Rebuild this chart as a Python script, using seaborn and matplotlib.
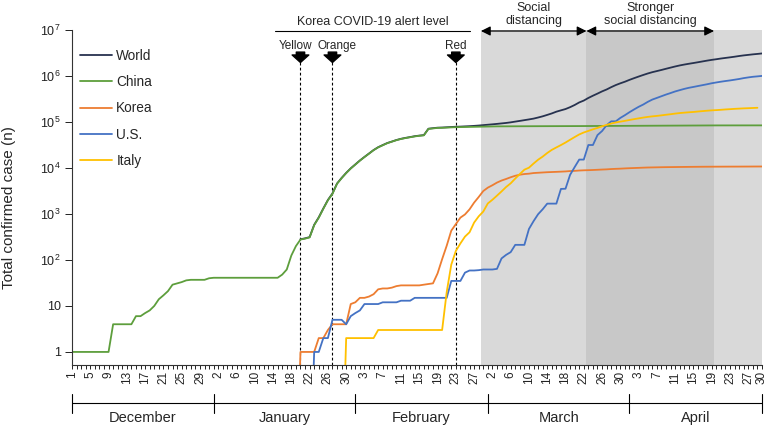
import pandas as pd
import matplotlib
matplotlib.use('Agg')
import matplotlib.pyplot as plt
import matplotlib.dates as mdates
from matplotlib.ticker import NullLocator
import seaborn as sns

# Daily cumulative confirmed cases (WHO situation report numbers)
china_start = '2019-12-01'
china = [1, 1, 1, 1, 1, 1, 1, 1, 1, 4, 4, 4, 4, 4, 6, 6, 7, 8, 10, 14,
         17, 21, 29, 31, 33, 36, 37, 37, 37, 37, 40,
         41, 41, 41, 41, 41, 41, 41, 41, 41, 41, 41, 41, 41, 41, 41, 48, 62, 125, 200,
         278, 291, 309, 571, 830, 1297, 1985, 2741, 4537, 5997, 7736, 9720,
         11821, 14411, 17238, 20471, 24363, 28060, 31211, 34598, 37251, 40235,
         42708, 44730, 46550, 48548, 50054, 51174, 70635, 72528, 74280, 74675,
         75569, 76392, 77042, 77262, 77780, 78191, 78630, 78961, 79394,
         79968, 80174, 80304, 80422, 80565, 80711, 80813, 80859, 80904, 80924,
         80955, 80981, 80991, 81021, 81048, 81077, 81116, 81174, 81300, 81416,
         81498, 81601, 81747, 81846, 81960, 82078, 82230, 82341, 82447, 82545, 82631,
         82724, 82802, 82875, 82930, 83005, 83071, 83157, 83249, 83305, 83369,
         83482, 83597, 83696, 83745, 83797, 83841, 83875, 84149, 84180, 84237,
         84250, 84287, 84302, 84311, 84324, 84338, 84341, 84347, 84367, 84373]

world_start = '2020-01-20'
world = [282, 295, 314, 581, 846, 1320, 2014, 2798, 4593, 6065, 7818, 9826,
         11953, 14557, 17391, 20630, 24554, 28276, 31481, 34886, 37558, 40554,
         43103, 45171, 46997, 49053, 50580, 51857, 71429, 73332, 75204, 75748,
         76769, 77794, 78811, 79331, 80239, 81109, 82294, 83652, 85403,
         87137, 88948, 90870, 93090, 95324, 98192, 101927, 105586, 109577, 113702,
         118319, 125048, 132758, 142539, 153517, 167511, 179111, 191127, 209839, 234073,
         266073, 292142, 332930, 372757, 414179, 462684, 509164, 571678, 634835, 693224, 750890,
         823626, 896450, 972303, 1051635, 1133758, 1210956, 1279722, 1353361, 1436198, 1521252,
         1610909, 1696588, 1773084, 1844863, 1914916, 1991562, 2074529, 2160207, 2241778, 2314621,
         2397216, 2471136, 2544792, 2626321, 2719896, 2804796, 2878196, 2954222, 3018952, 3090445]

korea_start = '2020-01-19'
korea = [0, 1, 1, 1, 1, 2, 2, 3, 4, 4, 4, 4, 11,
         12, 15, 15, 16, 18, 23, 24, 24, 25, 27, 28, 28, 28, 28, 28, 29, 30, 31,
         51, 104, 204, 433, 602, 833, 977, 1261, 1766, 2337, 3150,
         3736, 4212, 4812, 5328, 5766, 6284, 6767, 7134, 7382, 7513, 7755, 7869, 7979,
         8086, 8162, 8236, 8320, 8413, 8565, 8652, 8799, 8897, 8961, 9037, 9137, 9241,
         9332, 9478, 9583, 9661, 9786,
         9887, 9976, 10062, 10156, 10237, 10284, 10331, 10384, 10423, 10450, 10480,
         10512, 10537, 10564, 10591, 10613, 10635, 10653, 10661, 10674, 10683, 10694,
         10702, 10708, 10718, 10728, 10738, 10752, 10761, 10765]

us_start = '2020-01-22'
us = [0, 1, 1, 2, 2, 5, 5, 5, 4, 6,
      7, 8, 11, 11, 11, 11, 12, 12, 12, 12, 13, 13, 13, 15, 15, 15, 15, 15, 15,
      15, 15, 35, 35, 35, 53, 59, 59, 60, 62,
      62, 62, 64, 108, 129, 148, 213, 213, 213, 472, 696, 987, 1264, 1678, 1678,
      1678, 3503, 3536, 7087, 10442, 15219, 15219, 31573, 31573, 51914, 63570,
      85228, 103321, 103321, 122653, 140640,
      163199, 187302, 213600, 239279, 273880, 307318, 333811, 363321, 395030, 425889,
      461437, 492416, 524514, 553822, 578268, 605193, 632781, 661712, 695353, 723605,
      751273, 776907, 800926, 830053, 860772, 899281, 931698, 960651, 981246, 1003974]

italy_start = '2020-01-29'
italy = [0, 2, 2,
         2, 2, 2, 2, 2, 3, 3, 3, 3, 3, 3, 3, 3, 3, 3, 3, 3, 3, 3, 3,
         20, 79, 157, 229, 322, 400, 650, 888, 1128,
         1694, 2036, 2502, 3089, 3858, 4636, 5883, 7375, 9172, 10149, 12462, 15113,
         17660, 21157, 24747, 27980, 31506, 35713, 41035, 47021, 53578, 59138, 63927,
         69176, 74386, 80589, 86498, 92472, 97689, 101739, 105792,
         110574, 115242, 119827, 124632, 128948, 132547, 135586, 139422, 143626, 147577,
         152271, 156363, 159516, 162488, 165155, 168941, 172434, 175925, 178972, 181228,
         183957, 187327, 189973, 192994, 195351, 197675, 199414, 201505, 203591]

series_names = ['World', 'China', 'Korea', 'U.S.', 'Italy']
series_starts = [world_start, china_start, korea_start, us_start, italy_start]
series_values = [world, china, korea, us, italy]
series_colors = ['#27324f', '#5d9e3c', '#ed7d31', '#4472c4', '#ffc000']

month_names = ['December', 'January', 'February', 'March', 'April']
month_edges = ['2019-12-01', '2020-01-01', '2020-02-01', '2020-03-01', '2020-04-01', '2020-04-30']

alert_labels = ['Yellow', 'Orange', 'Red']
alert_dates = ['2020-01-20', '2020-01-27', '2020-02-23']
alert_label_shift = [-1.0, 1.0, 0.0]  # days, keeps Yellow/Orange apart
alert_span = ['2020-01-14 10:00', '2020-02-26 02:00']

period_labels = ['Social\ndistancing', 'Stronger\nsocial distancing']
period_edges = ['2020-02-28 12:00', '2020-03-22 14:00', '2020-04-19 12:00']


def dnum(d):
    return float(mdates.date2num(pd.Timestamp(d)))


frames = []
for name, start, vals in zip(series_names, series_starts, series_values):
    frames.append(pd.DataFrame({'date': pd.date_range(start, periods=len(vals)),
                                'cases': vals, 'country': name}))
df = pd.concat(frames, ignore_index=True)
# zero counts cannot sit on a log axis: push them below the floor so the line drops off
df['plot_cases'] = df['cases'].where(df['cases'] > 0, 1e-3).astype(float)

sns.set_style('ticks')
plt.rcParams['font.family'] = ['Liberation Sans', 'DejaVu Sans']
plt.rcParams['mathtext.fontset'] = 'custom'
plt.rcParams['mathtext.rm'] = 'Liberation Sans'

fig = plt.figure(figsize=(7.7, 4.28), dpi=100)
ax = fig.add_axes([72 / 770, 1 - 365 / 428, 690 / 770, 335 / 428])

first_day = dnum(month_edges[0])
last_day = dnum(month_edges[-1])
p = [dnum(d) for d in period_edges]
ax.axvspan(p[0], p[1], color='#d9d9d9', lw=0, zorder=0)
ax.axvspan(p[1], p[2], color='#c8c8c8', lw=0, zorder=0)
ax.axvspan(p[2], last_day, color='#d9d9d9', lw=0, zorder=0)

sns.lineplot(data=df, x='date', y='plot_cases', hue='country', hue_order=series_names,
             palette=dict(zip(series_names, series_colors)), estimator=None,
             lw=1.3, ax=ax)

ax.set_yscale('log')
ax.set_ylim(0.52, 1e7)
ax.set_xlim(first_day, last_day)
yt = [1, 10, 1e2, 1e3, 1e4, 1e5, 1e6, 1e7]
ax.set_yticks(yt)
ax.set_yticklabels(['1', '10'] + [r'$\mathregular{10^{%d}}$' % k for k in range(2, 8)], fontsize=9)
ax.yaxis.set_minor_locator(NullLocator())

all_days = pd.date_range(month_edges[0], month_edges[-1])
tick_days = list(all_days[::4]) + [all_days[-1]]
ax.set_xticks([dnum(d) for d in tick_days])
ax.set_xticklabels([str(d.day) for d in tick_days], rotation=90, fontsize=8.5)
ax.set_xticks([dnum(d) for d in all_days], minor=True)
ax.tick_params(axis='x', which='both', length=3, width=0.7, pad=1.5, colors='#222222')
ax.tick_params(axis='y', length=5, width=0.7, pad=3, colors='#222222')
ax.set_xlabel('')
ax.set_ylabel('Total confirmed case (n)', fontsize=11)
ax.yaxis.set_label_coords(-0.081, 0.469)
sns.despine(ax=ax)
for s in ['left', 'bottom']:
    ax.spines[s].set_color('#333333')
    ax.spines[s].set_linewidth(0.8)

trans = ax.get_xaxis_transform()

# month bracket under the day numbers
edges = [dnum(d) for d in month_edges]
ax.plot([edges[0], edges[-1]], [-0.1125, -0.1125], transform=trans, color='black', lw=0.8, clip_on=False)
for e in edges:
    ax.plot([e, e], [-0.088, -0.143], transform=trans, color='black', lw=0.8, clip_on=False)
for name, a, b in zip(month_names, edges[:-1], edges[1:]):
    ax.text((a + b) / 2, -0.158, name, transform=trans, ha='center', va='center', fontsize=10.5)

# Korea alert levels
s0, s1 = dnum(alert_span[0]), dnum(alert_span[1])
ax.plot([s0, s1], [0.997, 0.997], transform=trans, color='black', lw=0.8, clip_on=False)
ax.text((s0 + s1) / 2, 1.024, 'Korea COVID-19 alert level', transform=trans,
        ha='center', va='center', fontsize=9)
for lab, d, sh in zip(alert_labels, alert_dates, alert_label_shift):
    d = dnum(d)
    ax.axvline(d, ymin=0, ymax=0.905, color='black', ls=(0, (2.5, 2)), lw=0.8, zorder=1)
    ax.annotate('', xy=(d, 0.903), xytext=(d, 0.934), xycoords=trans, textcoords=trans,
                arrowprops=dict(arrowstyle='simple,head_length=0.45,head_width=1.0,tail_width=0.5',
                                fc='black', ec='black', shrinkA=0, shrinkB=0, mutation_scale=12),
                annotation_clip=False)
    ax.text(d + sh, 0.953, lab, transform=trans, ha='center', va='center', fontsize=8.5)

# social distancing periods
for lab, a, b in zip(period_labels, p[:-1], p[1:]):
    ax.annotate('', xy=(b, 0.997), xytext=(a, 0.997), xycoords=trans, textcoords=trans,
                arrowprops=dict(arrowstyle='<|-|>', color='black', lw=0.9, mutation_scale=14,
                                shrinkA=0, shrinkB=0), annotation_clip=False)
    ax.text((a + b) / 2, 1.046, lab, transform=trans, ha='center', va='center', fontsize=9,
            linespacing=1.15)

sns.move_legend(ax, 'upper left', bbox_to_anchor=(0.003, 0.96), frameon=False, title=None,
                fontsize=9.8, handlelength=2.4, labelspacing=0.9, handletextpad=0.3,
                borderaxespad=0)

fig.savefig('out.png', dpi=100)
